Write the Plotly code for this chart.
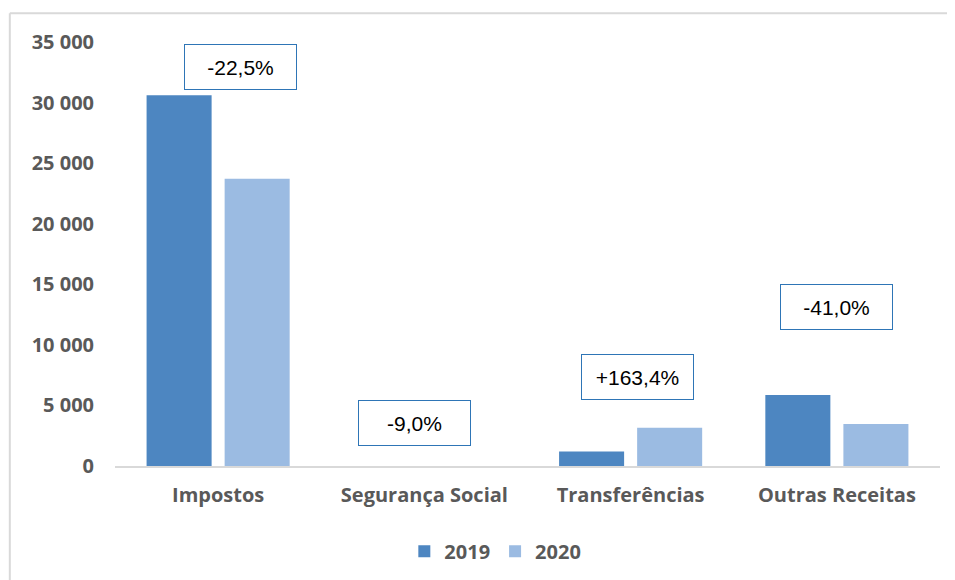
import plotly.graph_objects as go

categories = ["Impostos", "Segurança Social", "Transferências", "Outras Receitas"]
values_2019 = [30600, 0.4, 1200, 5860]
values_2020 = [23720, 0.36, 3160, 3460]
change_labels = ["-22,5%", "-9,0%", "+163,4%", "-41,0%"]
label_y = [32900, 3550, 7350, 13100]
label_xshift = [22, -10, 7, 0]
tick_vals = [0, 5000, 10000, 15000, 20000, 25000, 30000, 35000]
tick_text = ["0", "5 000", "10 000", "15 000", "20 000", "25 000", "30 000", "35 000"]

FONT = "'Open Sans', sans-serif"
GRAY = "#595959"

fig = go.Figure()
fig.add_trace(go.Bar(name="<b>2019</b>", x=categories, y=values_2019,
                     marker=dict(color="#4d86c1", line=dict(width=0))))
fig.add_trace(go.Bar(name="<b>2020</b>", x=categories, y=values_2020,
                     marker=dict(color="#9bbbe2", line=dict(width=0))))

for cat, txt, yy, xs in zip(categories, change_labels, label_y, label_xshift):
    fig.add_annotation(x=cat, y=yy, text=txt, showarrow=False, xshift=xs,
                       font=dict(family="'Liberation Sans', Arial, sans-serif", size=21, color="#000000"),
                       width=109, height=42, align="center", valign="middle",
                       bordercolor="#2e75b6", borderwidth=1, borderpad=1,
                       bgcolor="white")

# outer frame (top and left edges)
fig.add_shape(type="line", xref="paper", yref="paper", x0=-0.1275, x1=1.1, y0=1.068, y1=1.068,
              line=dict(color="#d9d9d9", width=2))
fig.add_shape(type="line", xref="paper", yref="paper", x0=-0.1275, x1=-0.1275, y0=-0.3, y1=1.068,
              line=dict(color="#d9d9d9", width=2))

fig.update_layout(
    width=955, height=580,
    margin=dict(l=107, r=23, t=34, b=122),
    paper_bgcolor="white", plot_bgcolor="white",
    barmode="group", bargap=0.243, bargroupgap=0.167,
    font=dict(family=FONT, color=GRAY),
    showlegend=True,
    legend=dict(orientation="h", x=0.461, xanchor="center", y=-0.155, yanchor="top",
                font=dict(family=FONT, size=20, color=GRAY),
                itemwidth=30, traceorder="normal"),
    xaxis=dict(showline=True, linecolor="#d9d9d9", linewidth=2, ticks="",
               tickvals=categories, ticktext=["<b>" + c + "</b>" for c in categories],
               tickfont=dict(family=FONT, size=20, color=GRAY),
               ticklabelstandoff=10,
               showgrid=False),
    yaxis=dict(range=[0, 35000], tickvals=tick_vals, ticktext=["<b>" + t + "</b>" for t in tick_text],
               showgrid=False, zeroline=False, showline=False, ticks="",
               ticklabelstandoff=20,
               tickfont=dict(family=FONT, size=20, color=GRAY)),
)

fig.write_html("out.html")
